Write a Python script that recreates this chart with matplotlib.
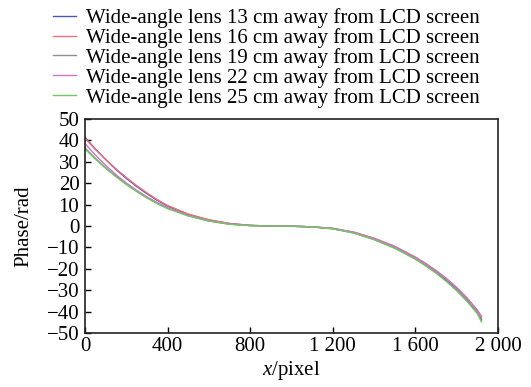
import matplotlib
matplotlib.use("Agg")
import matplotlib.pyplot as plt
from matplotlib.ticker import FixedLocator, FixedFormatter

plt.rcParams['font.family'] = ['Liberation Serif', 'DejaVu Serif']
plt.rcParams['mathtext.fontset'] = 'custom'
plt.rcParams['mathtext.it'] = 'Liberation Serif:italic'
plt.rcParams['mathtext.rm'] = 'Liberation Serif'
plt.rcParams['axes.unicode_minus'] = True

x = [0, 50, 100, 150, 200, 250, 300, 350, 400, 500, 600, 700, 800, 900, 1000,
     1100, 1200, 1300, 1400, 1500, 1600, 1650, 1700, 1750, 1800, 1850, 1900, 1920]

lens13 = [41.5, 36.0, 31.1, 26.4, 22.3, 18.5, 15.1, 12.0, 9.3, 5.4, 2.8, 1.1, 0.3, 0.0, -0.1,
          -0.4, -1.2, -3.0, -6.0, -9.9, -15.0, -18.1, -21.5, -25.3, -29.6, -34.6, -40.5, -43.6]
lens16 = [41.0, 35.8, 31.2, 26.7, 22.7, 18.9, 15.5, 12.3, 9.6, 5.6, 2.9, 1.2, 0.3, 0.0, -0.1,
          -0.4, -1.1, -2.8, -5.7, -9.5, -14.5, -17.5, -20.8, -24.5, -28.7, -33.6, -39.3, -42.2]
lens19 = [36.5, 31.7, 27.3, 23.3, 19.7, 16.4, 13.4, 10.8, 8.4, 4.9, 2.4, 0.9, 0.2, 0.0, -0.1,
          -0.4, -1.3, -3.2, -6.3, -10.3, -15.4, -18.5, -21.9, -25.8, -30.1, -35.0, -40.7, -44.3]
lens22 = [38.5, 33.2, 28.4, 24.0, 20.1, 16.7, 13.6, 10.9, 8.5, 4.9, 2.4, 0.9, 0.2, 0.0, -0.1,
          -0.4, -1.1, -2.9, -5.8, -9.6, -14.7, -17.7, -21.0, -24.7, -28.9, -33.8, -39.6, -42.8]
lens25 = [36.0, 31.3, 27.0, 23.0, 19.4, 16.1, 13.1, 10.4, 8.1, 4.7, 2.3, 0.8, 0.2, 0.0, -0.1,
          -0.4, -1.3, -3.3, -6.4, -10.4, -15.5, -18.6, -22.0, -25.9, -30.2, -35.2, -41.0, -44.8]

series = [lens13, lens16, lens19, lens22, lens25]
labels = ["Wide-angle lens 13 cm away from LCD screen",
          "Wide-angle lens 16 cm away from LCD screen",
          "Wide-angle lens 19 cm away from LCD screen",
          "Wide-angle lens 22 cm away from LCD screen",
          "Wide-angle lens 25 cm away from LCD screen"]
colors = ['#4a58b0', '#f07080', '#909090', '#c878c8', '#70c860']

xticks = [0, 400, 800, 1200, 1600, 2000]
xticklabels = ['0', '400', '800', '1 200', '1 600', '2 000']
yticks = [50, 40, 30, 20, 10, 0, -10, -20, -30, -40, -50]

fig = plt.figure(figsize=(5.31, 3.87), dpi=100)
ax = fig.add_axes([0.160, 0.1395, 0.778, 0.553])

lines = []
for ys, lab, c in zip(series, labels, colors):
    l, = ax.plot(x, ys, color=c, lw=1.0, label=lab)
    lines.append(l)

ax.set_xlim(0, 2000)
ax.set_ylim(-50, 50)
ax.xaxis.set_major_locator(FixedLocator(xticks))
ax.xaxis.set_major_formatter(FixedFormatter(xticklabels))
ax.set_yticks(yticks)
ax.tick_params(direction='in', length=4, width=1, labelsize=15,
               top=False, right=False)
ax.tick_params(axis='y', pad=4)
ax.tick_params(axis='x', pad=3)
for s in ax.spines.values():
    s.set_linewidth(1.2)
    s.set_color('#222222')

ax.set_xlabel(r'$\it{x}$/pixel', fontsize=15, labelpad=2)
ax.set_ylabel('Phase/rad', fontsize=15, labelpad=10)

fig.legend(handles=lines, labels=labels, loc='upper left',
           bbox_to_anchor=(0.092, 0.99), frameon=False, fontsize=15.0,
           labelspacing=0.0, handlelength=1.1, handletextpad=0.5,
           borderpad=0.2, borderaxespad=0.0)

fig.savefig('out.png', dpi=100)
